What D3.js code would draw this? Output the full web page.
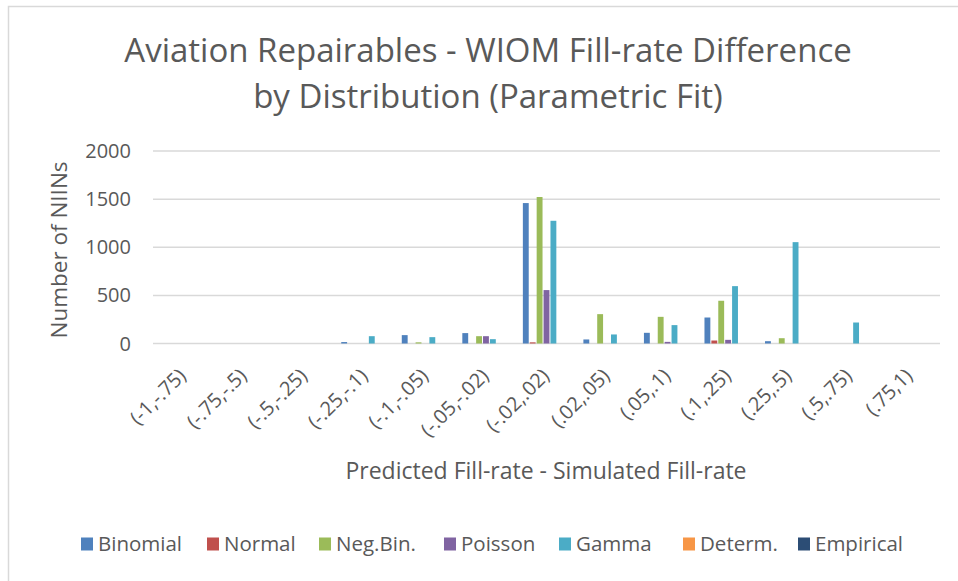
<!DOCTYPE html>
<html>
<head>
<meta charset="utf-8" />
<title>WIOM Fill-rate Difference</title>
<style>
html, body {
    margin: 0;
    padding: 0;
    background: #fff;
}
svg text {
    font-family: "Open Sans", "Noto Sans", sans-serif;
    fill: #595959;
}
</style>
</head>
<body>
<div id="chart"></div>
<script src="https://cdnjs.cloudflare.com/ajax/libs/d3/7.8.5/d3.min.js"></script>
<script>
var bins = ["(-1,-.75)", "(-.75,-.5)", "(-.5,-.25)", "(-.25,-.1)", "(-.1,-.05)", "(-.05,-.02)",
            "(-.02,.02)", "(.02,.05)", "(.05,.1)", "(.1,.25)", "(.25,.5)", "(.5,.75)", "(.75,1)"]

var seriesNames = ["Binomial", "Normal", "Neg.Bin.", "Poisson", "Gamma", "Determ.", "Empirical"]
var seriesColors = ["#4F81BD", "#C0504D", "#9BBB59", "#8064A2", "#4BACC6", "#F79646", "#2C4D75"]

// counts per bin, one array per distribution
var binomial  = [0, 0, 0, 15, 87, 108, 1459, 42, 111, 270, 24, 0, 0]
var normal    = [0, 0, 0, 0, 0, 0, 12, 0, 0, 31, 0, 0, 0]
var negBin    = [0, 0, 0, 0, 12, 76, 1522, 305, 277, 444, 55, 0, 0]
var poisson   = [0, 0, 0, 0, 0, 76, 555, 0, 17, 38, 0, 0, 0]
var gamma     = [0, 0, 0, 76, 66, 45, 1275, 94, 191, 596, 1053, 218, 0]
var determ    = [0, 0, 0, 0, 0, 0, 0, 0, 0, 0, 0, 0, 0]
var empirical = [0, 0, 0, 0, 0, 0, 0, 0, 0, 0, 0, 0, 0]

var yTicks = [0, 500, 1000, 1500, 2000]

var allSeries = [binomial, normal, negBin, poisson, gamma, determ, empirical]

var W = 958, H = 581
var svg = d3.select("#chart").append("svg")
    .attr("width", W)
    .attr("height", H)

// chart frame (only left/top edges fall inside the picture)
svg.append("rect")
    .attr("x", 8.5).attr("y", 6.5)
    .attr("width", W).attr("height", H)
    .attr("fill", "none")
    .attr("stroke", "#D9D9D9")
    .attr("stroke-width", 1.5)

var plot = {left: 153, right: 940, top: 151, bottom: 343.5}

var x0 = d3.scaleBand().domain(bins).range([plot.left, plot.right])
var x1 = d3.scaleBand().domain(seriesNames).range([0, x0.bandwidth()])
    .paddingInner(0.15).paddingOuter(0.96)
var y = d3.scaleLinear().domain([0, 2000]).range([plot.bottom, plot.top])

// gridlines
svg.append("g").selectAll("line")
    .data(yTicks)
    .enter().append("line")
    .attr("x1", plot.left).attr("x2", plot.right)
    .attr("y1", function(d) { return y(d) }).attr("y2", function(d) { return y(d) })
    .attr("stroke", "#D9D9D9")
    .attr("stroke-width", 1.5)

// y tick labels
svg.append("g").selectAll("text")
    .data(yTicks)
    .enter().append("text")
    .attr("x", 131)
    .attr("y", function(d) { return y(d) })
    .attr("dy", "0.35em")
    .attr("text-anchor", "end")
    .attr("font-size", 20)
    .text(function(d) { return d })

// bars
var groups = svg.append("g").selectAll("g")
    .data(bins)
    .enter().append("g")
    .attr("transform", function(d) { return "translate(" + x0(d) + ",0)" })

groups.selectAll("rect")
    .data(function(d, i) {
        return seriesNames.map(function(s, k) { return {s: s, k: k, v: allSeries[k][i]} })
    })
    .enter().append("rect")
    .attr("x", function(d) { return x1(d.s) })
    .attr("width", x1.bandwidth())
    .attr("y", function(d) { return y(d.v) })
    .attr("height", function(d) { return y(0) - y(d.v) })
    .attr("fill", function(d) { return seriesColors[d.k] })

// x tick labels, rotated
svg.append("g").selectAll("text")
    .data(bins)
    .enter().append("text")
    .attr("transform", function(d) {
        return "translate(" + (x0(d) + x0.bandwidth() / 2 + 4) + "," + 377 + ") rotate(-45)"
    })
    .attr("text-anchor", "end")
    .attr("font-size", 20)
    .text(function(d) { return d })

// titles
var title = svg.append("text")
    .attr("text-anchor", "middle")
    .attr("font-size", 33)
title.append("tspan").attr("x", 488).attr("y", 62).text("Aviation Repairables - WIOM Fill-rate Difference")
title.append("tspan").attr("x", 488).attr("y", 108).text("by Distribution (Parametric Fit)")

svg.append("text")
    .attr("x", 546).attr("y", 479)
    .attr("text-anchor", "middle")
    .attr("font-size", 23)
    .text("Predicted Fill-rate - Simulated Fill-rate")

svg.append("text")
    .attr("transform", "translate(67,250) rotate(-90)")
    .attr("text-anchor", "middle")
    .attr("font-size", 22.5)
    .text("Number of NIINs")

// legend
var legendX = [81, 207, 319, 444, 559, 683, 798]
var legend = svg.append("g").selectAll("g")
    .data(seriesNames)
    .enter().append("g")
    .attr("transform", function(d, i) { return "translate(" + legendX[i] + ",544)" })

legend.append("rect")
    .attr("x", 0).attr("y", -6.5)
    .attr("width", 12).attr("height", 13)
    .attr("fill", function(d, i) { return seriesColors[i] })

legend.append("text")
    .attr("x", 17)
    .attr("y", 0)
    .attr("dy", "0.35em")
    .attr("font-size", 20.5)
    .text(function(d) { return d })
</script>
</body>
</html>
